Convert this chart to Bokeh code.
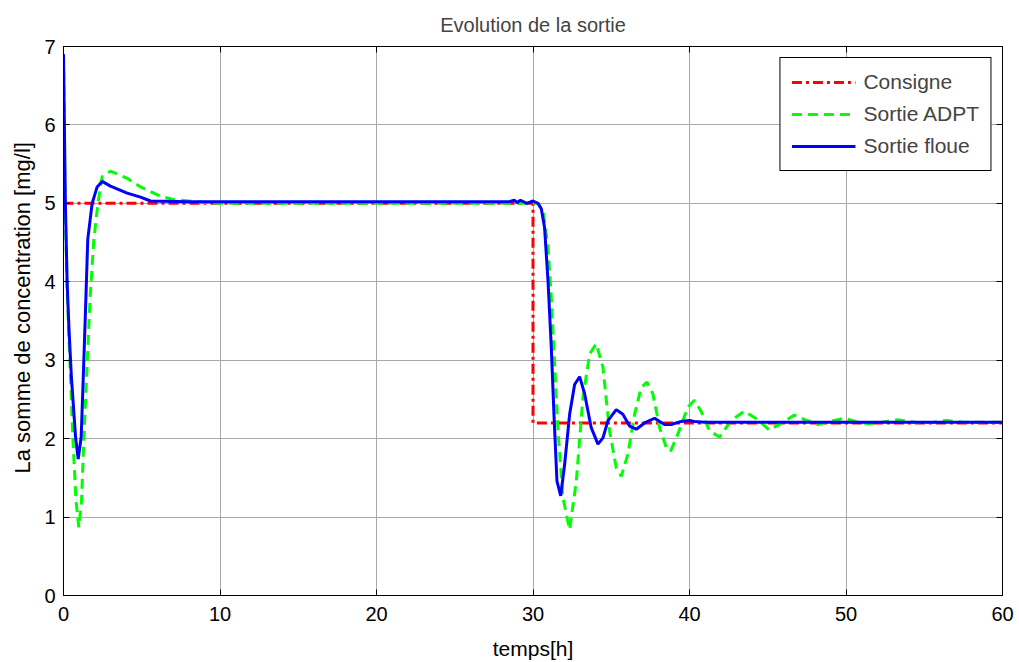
from bokeh.plotting import figure
from bokeh.models import LinearAxis, FixedTicker, Range1d, Legend, LegendItem, Title
from bokeh.embed import file_html
from bokeh.resources import INLINE

# Axis ticks
x_ticks = [0, 10, 20, 30, 40, 50, 60]
y_ticks = [0, 1, 2, 3, 4, 5, 6, 7]

# Consigne (setpoint)
t_consigne = [0, 30, 30, 60]
y_consigne = [5.0, 5.0, 2.2, 2.2]

# Sortie ADPT
t_adpt = [0, 0.1, 0.25, 0.45, 0.6, 0.8, 0.98, 1.15, 1.3, 1.47, 1.7, 1.94, 2.2, 2.47, 3.0, 4.07, 4.92, 6.2, 7.0,
          8.5, 10,
          30.3, 30.64, 30.96, 31.17, 31.38, 31.6, 31.91, 32.34, 32.77, 33.19, 33.62, 34.04, 34.47, 34.89, 35.32,
          35.64, 36.06, 36.49, 36.91, 37.28, 37.66, 38.09, 38.51, 38.79, 39.26, 39.89, 40.32, 40.74, 41.28,
          41.91, 42.66, 43.51, 44.3, 45.1, 45.9, 46.7, 47.4, 48.2, 49.0, 49.9, 50.6, 51.4, 52.3, 53.3, 54.0,
          54.8, 55.6, 56.4, 57.5, 60]
y_adpt = [6.9, 5.0, 3.8, 2.76, 2.0, 1.2, 0.87, 1.2, 2.0, 2.76, 3.8, 4.54, 5.0, 5.34, 5.41, 5.32, 5.21, 5.09, 5.05,
          5.02, 5.0,
          5.0, 4.91, 4.44, 3.80, 2.95, 2.10, 1.25, 0.84, 1.46, 2.52, 3.08, 3.21, 2.91, 2.10, 1.63,
          1.52, 1.80, 2.31, 2.65, 2.72, 2.57, 2.14, 1.89, 1.84, 2.06, 2.40, 2.49, 2.35, 2.10,
          2.02, 2.23, 2.35, 2.25, 2.11, 2.20, 2.30, 2.24, 2.18, 2.22, 2.26, 2.22, 2.19, 2.21, 2.24, 2.22,
          2.20, 2.21, 2.23, 2.21, 2.21]

# Sortie floue
t_floue = [0, 0.12, 0.23, 0.35, 0.5, 0.77, 0.94, 1.13, 1.26, 1.4, 1.55, 1.83, 2.15, 2.47, 3.0, 4.07, 4.92,
           5.56, 8, 28.5, 28.8, 29.0, 29.2, 29.6, 30.0, 30.32, 30.53, 30.74, 30.96, 31.17, 31.34, 31.53,
           31.77, 32.02, 32.34, 32.66, 32.98, 33.3, 33.72, 34.15, 34.47, 34.79, 35.32, 35.74, 36.17, 36.6,
           37.13, 37.77, 38.4, 38.83, 39.47, 40.0, 40.3, 41, 60]
y_floue = [6.9, 5.0, 4.0, 3.4, 2.8, 2.02, 1.74, 2.02, 2.76, 3.6, 4.54, 5.0, 5.21, 5.28, 5.22, 5.13, 5.08,
           5.03, 5.02, 5.02, 5.04, 5.01, 5.04, 5.0, 5.03, 5.0, 4.93, 4.69, 4.01, 3.16, 2.31, 1.46,
           1.27, 1.67, 2.31, 2.69, 2.79, 2.57, 2.14, 1.93, 2.01, 2.23, 2.37, 2.31, 2.16, 2.12,
           2.2, 2.26, 2.18, 2.18, 2.22, 2.23, 2.22, 2.21, 2.21]

FONT = "Liberation Sans"

p = figure(width=1019, height=662, output_backend="svg", toolbar_location=None,
           x_range=Range1d(0, 60), y_range=Range1d(0, 7),
           min_border_left=63, min_border_right=17, min_border_top=46, min_border_bottom=65,
           title="Evolution de la sortie")
p.title.align = "center"
p.title.text_font = FONT
p.title.text_font_size = "20px"
p.title.text_font_style = "normal"
p.title.standoff = 21

p.outline_line_color = "black"
p.outline_line_width = 1

xt = FixedTicker(ticks=x_ticks)
yt = FixedTicker(ticks=y_ticks)
p.xaxis.ticker = xt
p.yaxis.ticker = yt
p.xgrid.ticker = xt
p.ygrid.ticker = yt
for g in (p.xgrid, p.ygrid):
    g.grid_line_color = "#a8a8a8"
    g.grid_line_width = 1

for ax in (p.xaxis[0], p.yaxis[0]):
    ax.major_tick_in = 6
    ax.major_tick_out = 0
    ax.minor_tick_in = 0
    ax.minor_tick_out = 0
    ax.axis_line_color = "black"
    ax.major_tick_line_color = "black"
    ax.major_label_text_font = FONT
    ax.major_label_text_font_size = "20px"
    ax.major_label_text_color = "black"
    ax.axis_label_text_font = FONT
    ax.axis_label_text_font_size = "21px"
    ax.axis_label_text_font_style = "normal"
    ax.axis_label_text_color = "black"

p.xaxis.axis_label = "temps[h]"
p.xaxis.major_label_standoff = 11
p.yaxis.major_label_standoff = 8
p.xaxis.axis_label_standoff = 13

ylab = Title(text="La somme de concentration [mg/l]", align="left", offset=122,
             text_font=FONT, text_font_size="22px", text_font_style="normal", text_color="black",
             standoff=14)
p.add_layout(ylab, "left")

for loc, tk, ticks in (("right", yt, y_ticks), ("above", xt, x_ticks)):
    ax = LinearAxis(ticker=tk, major_tick_in=6, major_tick_out=0, minor_tick_in=0, minor_tick_out=0,
                    major_label_overrides={v: "" for v in ticks}, major_label_standoff=0,
                    major_label_text_font_size="2px",
                    axis_line_color="black", major_tick_line_color="black")
    p.add_layout(ax, loc)

r1 = p.line(t_consigne, y_consigne, line_color="#ff0000", line_width=3, line_dash="10 4 3 4")
r2 = p.line(t_adpt, y_adpt, line_color="#00ff00", line_width=3, line_dash="10 6")
r3 = p.line(t_floue, y_floue, line_color="#0000ff", line_width=3)

legend = Legend(items=[LegendItem(label="Consigne", renderers=[r1]),
                       LegendItem(label="Sortie ADPT", renderers=[r2]),
                       LegendItem(label="Sortie floue", renderers=[r3])],
                location="top_right")
legend.margin = 11
legend.padding = 11
legend.spacing = 6
legend.glyph_width = 64
legend.glyph_height = 26
legend.label_height = 26
legend.label_text_font = FONT
legend.label_text_font_size = "21px"
legend.label_standoff = 8
legend.border_line_color = "black"
legend.border_line_width = 1
legend.border_line_alpha = 1
legend.background_fill_color = "white"
legend.background_fill_alpha = 1
p.add_layout(legend, "center")

open("out.html", "w").write(file_html(p, INLINE))
